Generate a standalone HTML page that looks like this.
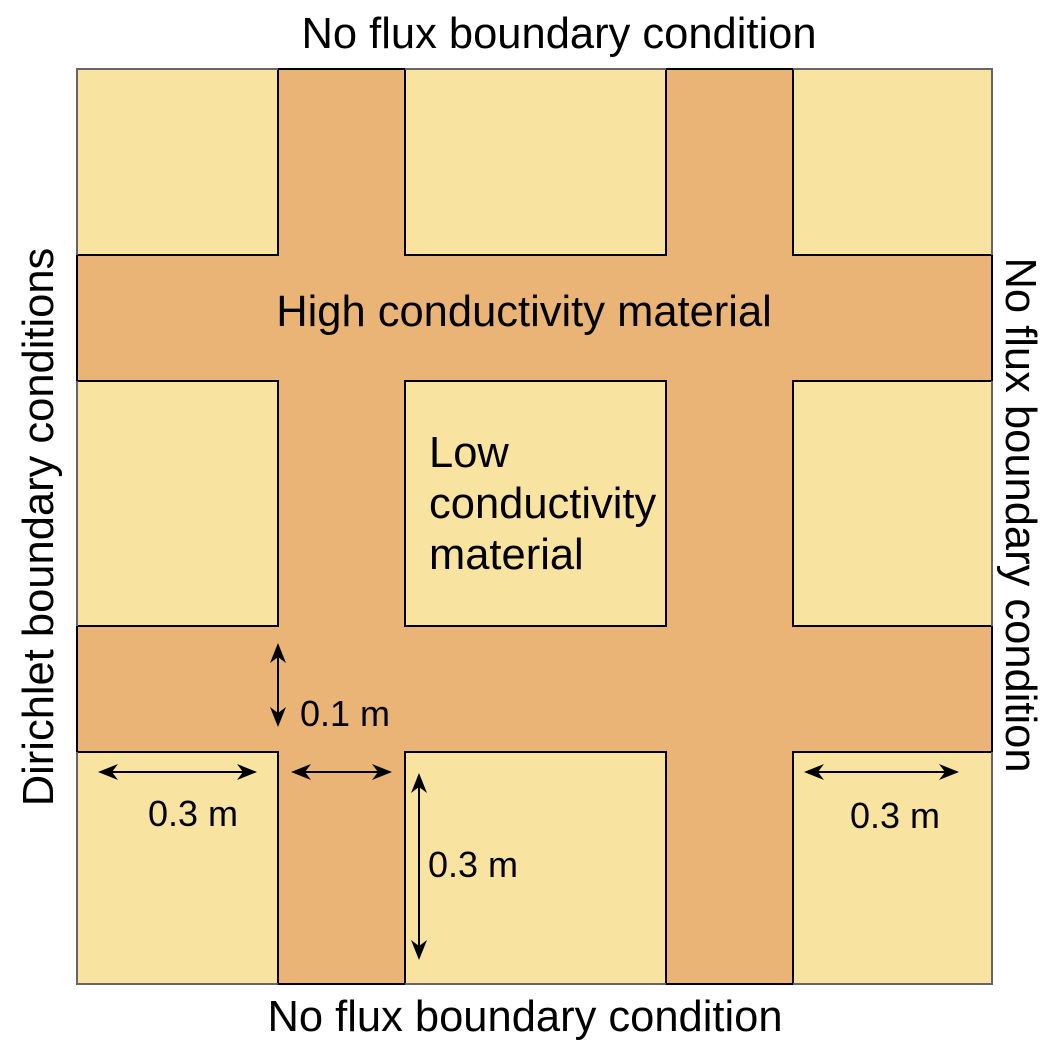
<!DOCTYPE html>
<html><head><style>body{margin:0;background:#fff}svg{display:block}</style></head><body>
<svg width="1062" height="1058" viewBox="0 0 1062 1058" xmlns="http://www.w3.org/2000/svg" font-family="Liberation Sans, sans-serif">
<defs>
<marker id="a" viewBox="0 0 20 16" refX="18" refY="8" markerWidth="20" markerHeight="16" markerUnits="userSpaceOnUse" orient="auto-start-reverse">
<path d="M0,0 L20,8 L0,16 L6,8 Z" fill="#000"/>
</marker>
</defs>
<rect x="77" y="69" width="915" height="915" fill="#EAB476" stroke="#000" stroke-width="2"/>
<g fill="#F9E3A0" stroke="#000" stroke-width="2">
<rect x="77" y="69" width="201" height="186"/><rect x="405" y="69" width="261" height="186"/><rect x="793" y="69" width="199" height="186"/>
<rect x="77" y="381" width="201" height="245"/><rect x="405" y="381" width="261" height="245"/><rect x="793" y="381" width="199" height="245"/>
<rect x="77" y="752" width="201" height="232"/><rect x="405" y="752" width="261" height="232"/><rect x="793" y="752" width="199" height="232"/>
</g>
<g stroke="#666" stroke-width="2" fill="none">
<path d="M77,255 V69 H278 M405,69 H666 M793,69 H992 V255 M992,381 V626 M992,752 V984 H793 M666,984 H405 M278,984 H77 V752 M77,626 V381"/>
</g>
<g stroke="#000" stroke-width="2" marker-start="url(#a)" marker-end="url(#a)">
<line x1="278" y1="645" x2="278" y2="725"/>
<line x1="100" y1="772" x2="255" y2="772"/>
<line x1="293" y1="772" x2="390" y2="772"/>
<line x1="806" y1="772" x2="957" y2="772"/>
<line x1="419" y1="775" x2="419" y2="958"/>
</g>
<g font-size="43.5" fill="#000">
<text x="559" y="48" text-anchor="middle">No flux boundary condition</text>
<text x="525" y="1031" text-anchor="middle">No flux boundary condition</text>
<text x="524" y="326" text-anchor="middle">High conductivity material</text>
<text transform="translate(53,527) rotate(-90)" text-anchor="middle">Dirichlet boundary conditions</text>
<text transform="translate(1006,515) rotate(90)" text-anchor="middle">No flux boundary condition</text>
<text x="429" y="467">Low</text>
<text x="429" y="518">conductivity</text>
<text x="429" y="569">material</text>
</g>
<g font-size="36" fill="#000">
<text x="300" y="726">0.1 m</text>
<text x="148" y="826">0.3 m</text>
<text x="428" y="877">0.3 m</text>
<text x="850" y="828">0.3 m</text>
</g>
</svg>
</body></html>
